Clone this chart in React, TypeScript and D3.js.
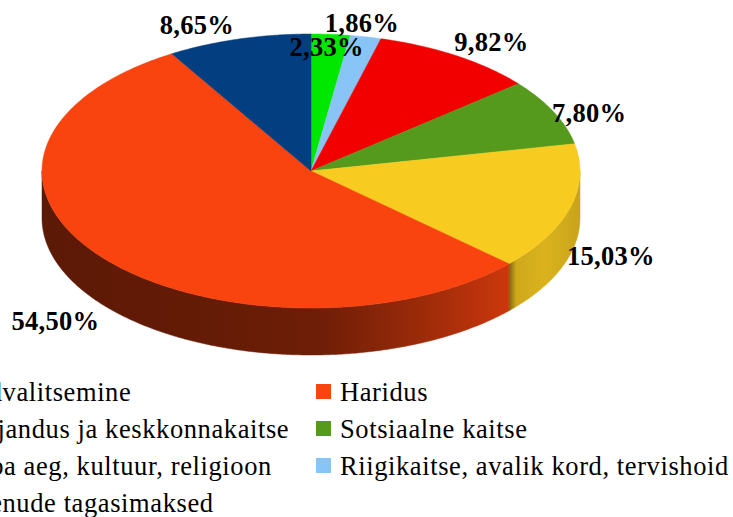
import React from "react";
import * as d3 from "d3";

// Legend order (row-wise, two columns)
const categories = [
  "Üldvalitsemine",
  "Haridus",
  "Majandus ja keskkonnakaitse",
  "Sotsiaalne kaitse",
  "Vaba aeg, kultuur, religioon",
  "Riigikaitse, avalik kord, tervishoid",
  "Laenude tagasimaksed",
];
const shares = [8.65, 54.5, 15.03, 7.8, 9.82, 1.86, 2.33];
const shareLabels = ["8,65%", "54,50%", "15,03%", "7,80%", "9,82%", "1,86%", "2,33%"];
const sliceColors = ["#033F80", "#F9440F", "#F8CB21", "#559A1C", "#F20000", "#88C4F6", "#00E800"];

// layout
const W = 733;
const H = 517;
const CX = 311;
const CY = 171;
const RX = 269;
const RY = 137;
const DEPTH = 47;
const LABEL_FACTOR = 1.15;
const labelNudge: Record<string, [number, number]> = {
  "Laenude tagasimaksed": [-7, 33],
  "Riigikaitse, avalik kord, tervishoid": [-12, 6],
  "Vaba aeg, kultuur, religioon": [13, 3],
  "Sotsiaalne kaitse": [-1, 10],
  "Majandus ja keskkonnakaitse": [2, -4],
  Haridus: [-16, 3],
  Üldvalitsemine: [-31, 6],
};
const FONT = "Liberation Serif";
const FS = 26.5;

type Row = { name: string; value: number; label: string; color: string };
const rows: Row[] = categories.map((name, i) => ({
  name,
  value: shares[i],
  label: shareLabels[i],
  color: sliceColors[i],
}));
// pie runs clockwise from 12 o'clock in reverse legend order
const pieRows = rows.slice().reverse();

const pt = (a: number, dy = 0): [number, number] => [
  CX + RX * Math.sin(a),
  CY - RY * Math.cos(a) + dy,
];

const sample = (a0: number, a1: number, dy = 0) => {
  const n = Math.max(2, Math.ceil(Math.abs(a1 - a0) / (Math.PI / 360)));
  return d3.range(n + 1).map((k) => pt(a0 + ((a1 - a0) * k) / n, dy));
};

const brightness = d3
  .scaleLinear<number>()
  .domain([42, 200, 330, 440, 508, 545, 580])
  .range([0.37, 0.4, 0.45, 0.66, 0.82, 0.88, 0.81])
  .clamp(true);

const shade = (c: string, b: number) => {
  const r = d3.rgb(c);
  return d3.rgb(r.r * b, r.g * b, r.b * b).formatHex();
};

const textStyle = { fontFamily: FONT } as React.CSSProperties;

export default function App() {
  const pie = d3
    .pie<Row>()
    .sort(null)
    .value((d) => d.value)
    .startAngle(0)
    .endAngle(2 * Math.PI);
  const arcs = pie(pieRows);
  const line = d3.line();

  const walls = arcs
    .map((a, i) => {
      const s = Math.max(a.startAngle, Math.PI / 2);
      const e = Math.min(a.endAngle, (3 * Math.PI) / 2);
      if (e <= s) return null;
      const top = sample(s, e);
      const bot = sample(e, s, DEPTH);
      const pts = [...top, ...bot];
      const xs = pts.map((p) => p[0]);
      const x0 = d3.min(xs)!;
      const x1 = d3.max(xs)!;
      const leftIsBoundary = e < (3 * Math.PI) / 2 - 1e-6;
      const stops = d3.range(11).map((k) => {
        const x = x0 + ((x1 - x0) * k) / 10;
        return { off: k / 10, col: shade(a.data.color, brightness(x)) };
      });
      if (leftIsBoundary) {
        stops.unshift({ off: 0, col: shade(a.data.color, 0.5) });
        stops[1] = { off: Math.min(0.1, 8 / (x1 - x0)), col: stops[1].col };
      }
      return { id: `wall${i}`, d: line(pts as [number, number][])! + "Z", x0, x1, stops };
    })
    .filter(Boolean) as { id: string; d: string; x0: number; x1: number; stops: { off: number; col: string }[] }[];

  const tops = arcs.map((a) => {
    const pts = [[CX, CY] as [number, number], ...sample(a.startAngle, a.endAngle)];
    return { d: line(pts)! + "Z", color: a.data.color };
  });

  const labels = arcs.map((a) => {
    const mid = (a.startAngle + a.endAngle) / 2;
    const front = Math.cos(mid) < 0 ? DEPTH : 0;
    const nudge = labelNudge[a.data.name] || [0, 0];
    return {
      x: CX + RX * LABEL_FACTOR * Math.sin(mid) + nudge[0],
      y: CY - RY * LABEL_FACTOR * Math.cos(mid) + front + nudge[1],
      text: a.data.label,
    };
  });

  // legend layout
  const colX = [-63, 316];
  const rowY = d3.range(4).map((r) => 401 + r * 37);

  return (
    <svg
      width={W}
      height={H}
      style={{ position: "absolute", left: 0, top: 0, background: "#fff" }}
    >
      <defs>
        {walls.map((w) => (
          <linearGradient key={w.id} id={w.id} gradientUnits="userSpaceOnUse" x1={w.x0} x2={w.x1} y1={0} y2={0}>
            {w.stops.map((s, k) => (
              <stop key={k} offset={s.off} stopColor={s.col} />
            ))}
          </linearGradient>
        ))}
      </defs>
      <rect x={0} y={0} width={W} height={H} fill="#fff" />
      {walls.map((w) => (
        <path key={w.id} d={w.d} fill={`url(#${w.id})`} stroke={`url(#${w.id})`} strokeWidth={0.5} />
      ))}
      {tops.map((t, i) => (
        <path key={i} d={t.d} fill={t.color} stroke={t.color} strokeWidth={0.5} />
      ))}
      {labels.map((l, i) => (
        <text
          key={i}
          x={l.x}
          y={l.y + FS * 0.34}
          textAnchor="middle"
          fontSize={FS}
          fontWeight="bold"
          letterSpacing={0.3}
          fill="#000"
          style={textStyle}
        >
          {l.text}
        </text>
      ))}
      {rows.map((r, i) => {
        const x = colX[i % 2];
        const y = rowY[Math.floor(i / 2)];
        return (
          <g key={r.name}>
            <rect x={x} y={y - 17} width={15} height={15} fill={r.color} />
            <text x={x + 24} y={y} fontSize={FS} letterSpacing={0.6} fill="#000" style={textStyle}>
              {r.name}
            </text>
          </g>
        );
      })}
    </svg>
  );
}
